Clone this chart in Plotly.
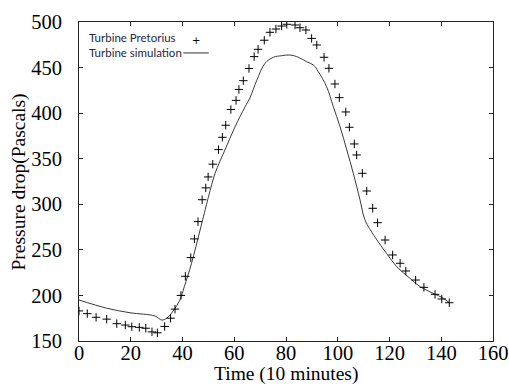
import plotly.graph_objects as go

# Measured data: Turbine Pretorius (markers)
pret_x = [0, 3.2, 6.6, 10.7, 14.6, 17.9, 20.4, 23.3, 25.8, 28.2, 30.3, 33.1, 35.4, 37.1,
          39.4, 41.1, 43.2, 44.6, 46.0, 47.6, 49.0, 49.9, 51.7, 53.9, 55.4, 56.7, 58.7,
          60.7, 61.8, 63.5, 65.7, 67.7, 69.2, 71.6, 73.8, 76.1, 78.3, 80.3, 83.5, 85.4,
          87.7, 89.9, 91.9, 94.7, 96.6, 98.9, 100.6, 103.1, 104.5, 106.4, 107.3, 109.5,
          111.2, 113.5, 115.4, 118.3, 121.2, 124.1, 126.3, 130.1, 133.3, 137.6, 140.2, 143.1]
pret_y = [183, 180, 176, 174, 169, 167.5, 165.7, 165, 164, 160, 159, 166, 175, 185,
          200, 221, 241.5, 262, 281, 305, 318, 330, 344, 360, 373.5, 386.7, 404,
          414, 426, 435.6, 449, 462, 470, 480, 488.7, 492.3, 495.6, 497.5, 496.7, 493.7,
          491.2, 482, 474.8, 461.3, 449.2, 432, 417, 401.3, 384.5, 366.2, 354.1, 334,
          314.6, 295.6, 279.8, 260.8, 244.4, 235.3, 226.8, 216.9, 208.9, 201.2, 196.1, 192]

# Turbine simulation (line)
sim_x = [0, 10.7, 19.7, 29.4, 32, 33.9, 36.4, 39, 40.7, 43.5, 46.8, 49.3, 50.2, 52.6,
         56.4, 60.3, 64.2, 66.1, 68.7, 71.9, 75.1, 78.3, 81.5, 84.8, 88, 90.6, 92.5,
         95.7, 98.3, 100.9, 103.5, 106, 108.6, 110.5, 114.4, 118.9, 122.8, 127.9,
         131.8, 136.9, 140.8, 143.1]
sim_y = [195, 186, 181, 177.4, 173, 175, 183, 195, 209.6, 235.3, 271.8, 300, 310, 334,
         359.6, 385, 407, 417, 436, 454.7, 461.3, 463, 463.8, 461.3, 456.4, 452.8, 445.5,
         429, 407, 385, 359.6, 334, 305, 283, 264, 246, 231.5, 218.8,
         209.6, 202.3, 196.9, 192]

x_ticks = [0, 20, 40, 60, 80, 100, 120, 140, 160]
y_ticks = [150, 200, 250, 300, 350, 400, 450, 500]

fig = go.Figure()
fig.add_trace(go.Scatter(
    x=sim_x, y=sim_y, mode="lines", name="Turbine simulation",
    line=dict(color="#3a3a3a", width=1), line_shape="spline", showlegend=False))
fig.add_trace(go.Scatter(
    x=pret_x, y=pret_y, mode="markers", name="Turbine Pretorius",
    marker=dict(symbol="cross-thin", size=6, line=dict(color="black", width=1)),
    showlegend=False))

serif = "Liberation Serif"
axis_common = dict(
    showline=True, linecolor="#222222", linewidth=1, mirror="allticks",
    ticks="inside", ticklen=4, tickcolor="#222222", showgrid=False, zeroline=False,
    automargin=False,
    tickfont=dict(family=serif, size=20.5, color="black"),
)
fig.update_xaxes(range=[0, 160], tickvals=x_ticks, ticktext=[str(v) for v in x_ticks],
                 ticklabelstandoff=-7,
                 **axis_common)
fig.update_yaxes(range=[150, 500], tickvals=y_ticks, ticktext=[str(v) for v in y_ticks],
                 ticklabelstandoff=12,
                 **axis_common)

title_font = dict(family=serif, size=19.5, color="black")
fig.add_annotation(xref="paper", yref="paper", x=0.5, y=-0.104, xanchor="center", yanchor="middle",
                   text="Time (10 minutes)", showarrow=False, font=title_font)
fig.add_annotation(xref="paper", yref="paper", x=-0.145, y=0.5, xanchor="center", yanchor="middle",
                   text="Pressure drop(Pascals)", textangle=-90, showarrow=False, font=title_font)

legend_font = dict(family="Lato", size=11.5, color="#262640")
fig.add_annotation(xref="paper", yref="paper", x=0.019, y=0.95, xanchor="left", yanchor="middle",
                   text="Turbine Pretorius", showarrow=False, font=legend_font)
fig.add_annotation(xref="paper", yref="paper", x=0.019, y=0.903, xanchor="left", yanchor="middle",
                   text="Turbine simulation", showarrow=False, font=legend_font)
fig.add_annotation(xref="paper", yref="paper", x=0.283, y=0.943, xanchor="center", yanchor="middle",
                   text="+", showarrow=False, font=dict(family="DejaVu Sans", size=10, color="black"))
fig.add_shape(type="line", xref="paper", yref="paper", x0=0.252, x1=0.3135, y0=0.903, y1=0.903,
              line=dict(color="#333333", width=1))

fig.update_layout(
    width=509, height=387,
    margin=dict(l=79, r=16, t=22, b=46),
    paper_bgcolor="white", plot_bgcolor="white",
)
fig.write_html("out.html", config={"displayModeBar": False},
               post_script="document.body.style.margin='0';document.body.style.overflow='hidden';")
